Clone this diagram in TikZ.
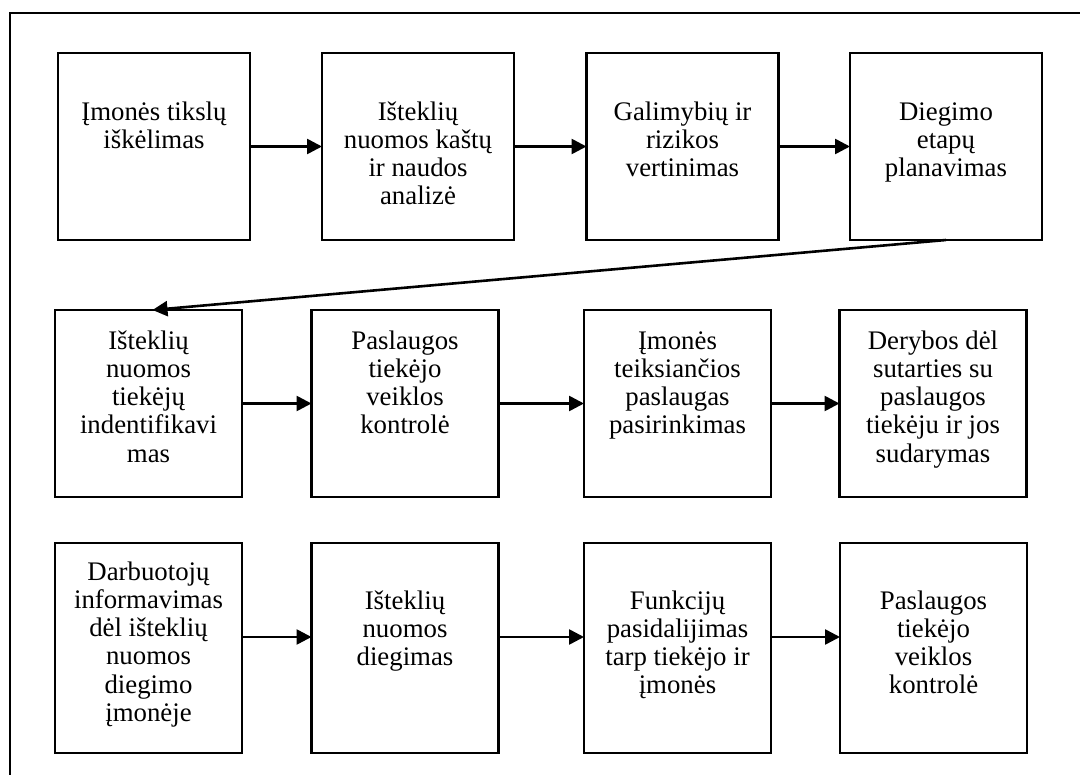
\documentclass[tikz,border=0pt]{standalone}
\usepackage{fontspec}
\setmainfont{Liberation Serif}
\usetikzlibrary{arrows.meta}
\begin{document}
\begin{tikzpicture}[x=1pt, y=-1pt,
  stepbox/.style={draw, line width=2.8pt, inner sep=0pt, outer sep=0pt},
  steptext/.style={anchor=north, inner sep=0pt, align=center,
    font=\fontsize{26.8}{28.3}\selectfont},
  flow/.style={line width=2.6pt, -{Triangle[length=15pt, width=15pt]}},
  frame/.style={line width=1.8pt}]
\useasboundingbox (0,0) rectangle (1080,775);

% outer frame (top and left edges)
\coordinate (frameTR) at (1080,13);
\coordinate (frameTL) at (10,13);
\coordinate (frameBL) at (10,775);
\draw[frame] (frameTR) -- (frameTL) -- (frameBL);

% row 1
\node[stepbox, minimum width=192pt, minimum height=187pt] (r1a) at (154,146.5) {};
\node[stepbox, minimum width=192pt, minimum height=187pt] (r1b) at (418,146.5) {};
\node[stepbox, minimum width=192pt, minimum height=187pt] (r1c) at (682.5,146.5) {};
\node[stepbox, minimum width=192pt, minimum height=187pt] (r1d) at (946,146.5) {};

% row 2
\node[stepbox, minimum width=187pt, minimum height=187pt] (r2a) at (148.5,403.5) {};
\node[stepbox, minimum width=187pt, minimum height=187pt] (r2b) at (405,403.5) {};
\node[stepbox, minimum width=187pt, minimum height=187pt] (r2c) at (677.5,403.5) {};
\node[stepbox, minimum width=187pt, minimum height=187pt] (r2d) at (933,403.5) {};

% row 3
\node[stepbox, minimum width=187pt, minimum height=210pt] (r3a) at (148.5,648) {};
\node[stepbox, minimum width=187pt, minimum height=210pt] (r3b) at (405,648) {};
\node[stepbox, minimum width=187pt, minimum height=210pt] (r3c) at (677.5,648) {};
\node[stepbox, minimum width=187pt, minimum height=210pt] (r3d) at (933.5,648) {};

% texts
\node[steptext] (t1a) at ([yshift=-47pt]r1a.north) {\strut Įmonės tikslų\\iškėlimas};
\node[steptext] (t1b) at ([yshift=-47pt]r1b.north) {\strut Išteklių\\nuomos kaštų\\ir naudos\\analizė};
\node[steptext] (t1c) at ([yshift=-47pt]r1c.north) {\strut Galimybių ir\\rizikos\\vertinimas};
\node[steptext] (t1d) at ([yshift=-47pt]r1d.north) {\strut Diegimo\\etapų\\planavimas};

\node[steptext] (t2a) at ([yshift=-19pt]r2a.north) {\strut Išteklių\\nuomos\\tiekėjų\\indentifikavi\\mas};
\node[steptext] (t2b) at ([yshift=-19pt]r2b.north) {\strut Paslaugos\\tiekėjo\\veiklos\\kontrolė};
\node[steptext] (t2c) at ([yshift=-19pt]r2c.north) {\strut Įmonės\\teiksiančios\\paslaugas\\pasirinkimas};
\node[steptext] (t2d) at ([yshift=-19pt]r2d.north) {\strut Derybos dėl\\sutarties su\\paslaugos\\tiekėju ir jos\\sudarymas};

\node[steptext] (t3a) at ([yshift=-17pt]r3a.north) {\strut Darbuotojų\\informavimas\\dėl išteklių\\nuomos\\diegimo\\įmonėje};
\node[steptext] (t3b) at ([yshift=-46pt]r3b.north) {\strut Išteklių\\nuomos\\diegimas};
\node[steptext] (t3c) at ([yshift=-46pt]r3c.north) {\strut Funkcijų\\pasidalijimas\\tarp tiekėjo ir\\įmonės};
\node[steptext] (t3d) at ([yshift=-46pt]r3d.north) {\strut Paslaugos\\tiekėjo\\veiklos\\kontrolė};

% connectors
\draw[flow] (r1a.east) -- (r1b.west);
\draw[flow] (r1b.east) -- (r1c.west);
\draw[flow] (r1c.east) -- (r1d.west);
\draw[flow] (r1d.south) -- ([xshift=4pt]r2a.north);
\draw[flow] (r2a.east) -- (r2b.west);
\draw[flow] (r2b.east) -- (r2c.west);
\draw[flow] (r2c.east) -- (r2d.west);
\draw[flow] ([yshift=11pt]r3a.east) -- ([yshift=11pt]r3b.west);
\draw[flow] ([yshift=11pt]r3b.east) -- ([yshift=11pt]r3c.west);
\draw[flow] ([yshift=11pt]r3c.east) -- ([yshift=11pt]r3d.west);
\end{tikzpicture}
\end{document}
